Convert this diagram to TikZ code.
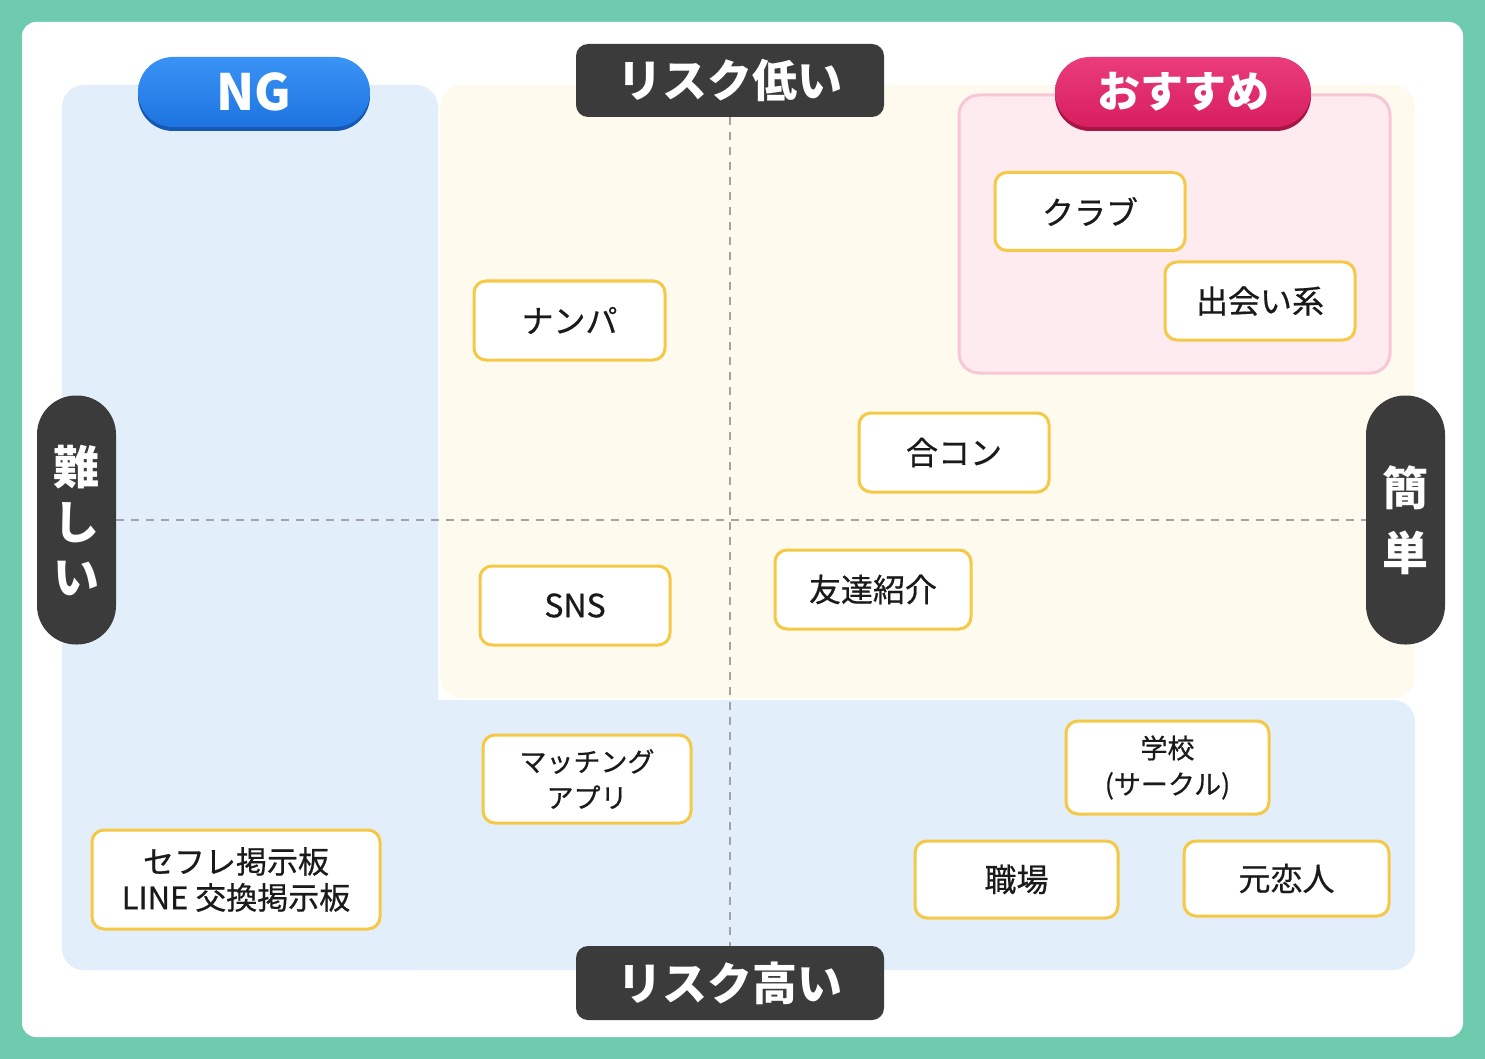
\documentclass[tikz,border=0pt]{standalone}
\usepackage{fontspec}
\setmainfont{Noto Sans CJK JP}
\newfontfamily\itemfont[FakeBold=0.6]{Noto Sans CJK JP}
\usepackage{xcolor}
\usetikzlibrary{positioning, calc}

\definecolor{mint}{HTML}{6FCBAE}
\definecolor{zoneblue}{HTML}{E3EEFB}
\definecolor{zonecream}{HTML}{FEFBEE}
\definecolor{zonepink}{HTML}{FDEBF0}
\definecolor{pinkline}{HTML}{F8C6D6}
\definecolor{itemline}{HTML}{F5C845}
\definecolor{tagdark}{HTML}{3B3B3B}
\definecolor{ngtop}{HTML}{3A93F6}
\definecolor{ngbottom}{HTML}{1E74E0}
\definecolor{ngshadow}{HTML}{1858B5}
\definecolor{recotop}{HTML}{EA3C7C}
\definecolor{recobottom}{HTML}{D81E5E}
\definecolor{recoshadow}{HTML}{A81648}
\definecolor{axisgray}{HTML}{A3A3A3}
\definecolor{inktext}{HTML}{1A1A1A}

\begin{document}
\begin{tikzpicture}[
    x=1pt, y=-1pt,
    item/.style={draw=itemline, line width=3pt, fill=white, rounded corners=12pt, minimum width=190, minimum height=78, inner sep=0pt, align=center, text=inktext, font=\itemfont\fontsize{32}{40}\selectfont},
    twoline/.style={font=\itemfont\fontsize{27}{36}\selectfont},
    axistag/.style={fill=tagdark, rounded corners=12pt, minimum width=308, minimum height=73, inner sep=0pt, text=white, font=\bfseries\fontsize{45}{50}\selectfont},
    sidetag/.style={fill=tagdark, rounded corners=39pt, minimum width=79, minimum height=249, inner sep=0pt, align=center, text=white},
    pill/.style={rounded corners=35pt, minimum height=70, inner sep=0pt, text=white},
    axis/.style={draw=axisgray, line width=2pt, dash pattern=on 8pt off 7pt}
]

\useasboundingbox (0,0) rectangle (1485,1059);
\fill[mint] (0,0) rectangle (1485,1059);
\fill[white, rounded corners=14] (22,22) rectangle (1463,1037);

\fill[zoneblue, rounded corners=22] (62,85) rectangle (438,970);
\fill[zoneblue, rounded corners=22] (62,700) rectangle (1415,970);
\fill[zonecream, rounded corners=22] (440,85) rectangle (1415,698);
\node[draw=pinkline, fill=zonepink, line width=3pt, rounded corners=20pt, minimum width=431, minimum height=278] (recozone) at (1174.5,234) {};

\fill[ngshadow, rounded corners=35] (138,61) rectangle (370,131);
\node[pill, minimum width=232, top color=ngtop, bottom color=ngbottom, font=\bfseries\fontsize{50}{55}\selectfont] (ng) at (254,92) {NG};
\fill[recoshadow, rounded corners=35] (1055,61) rectangle (1311,131);
\node[pill, minimum width=256, top color=recotop, bottom color=recobottom, font=\bfseries\fontsize{43}{50}\selectfont] (reco) at (1183,92) {おすすめ};

\node[axistag] (lowrisk) at (730,80.5) {リスク低い};
\node[axistag, minimum height=74] (highrisk) at (730,983) {リスク高い};
\node[sidetag, font=\bfseries\fontsize{46}{55}\selectfont] (hard) at (76.5,520) {\raisebox{-8pt}{難}\\\raisebox{-8pt}{し}\\\raisebox{-8pt}{い}};
\node[sidetag, font=\bfseries\fontsize{46}{65}\selectfont] (easy) at (1405.5,520) {簡\\単};

\draw[axis] (lowrisk.south) -- (highrisk.north);
\draw[axis] (hard.east) -- (easy.west);

\node[item] (club) at (1090,211.5) {クラブ};
\node[item] (deai) at (1260,301) {出会い系};
\node[item, minimum width=191, minimum height=79] (nanpa) at (569.5,320.5) {ナンパ};
\node[item, minimum height=79] (goukon) at (954,452.5) {合コン};
\node[item, minimum height=79] (sns) at (575,605.5) {SNS};
\node[item, minimum width=196, minimum height=79] (friend) at (873,589.5) {友達紹介};
\node[item, twoline, minimum width=208, minimum height=88] (matching) at (587,779) {マッチング\\アプリ};
\node[item, twoline, minimum width=203, minimum height=93] (school) at (1167.5,767.5) {学校\\(サークル)};
\node[item, minimum width=203, minimum height=77] (work) at (1016.5,879.5) {職場};
\node[item, minimum width=205, minimum height=75] (ex) at (1286.5,878.5) {元恋人};
\node[item, minimum width=288, minimum height=99, font=\itemfont\fontsize{31}{36}\selectfont] (board) at (236,879.5) {セフレ掲示板\\LINE 交換掲示板};

\end{tikzpicture}
\end{document}
